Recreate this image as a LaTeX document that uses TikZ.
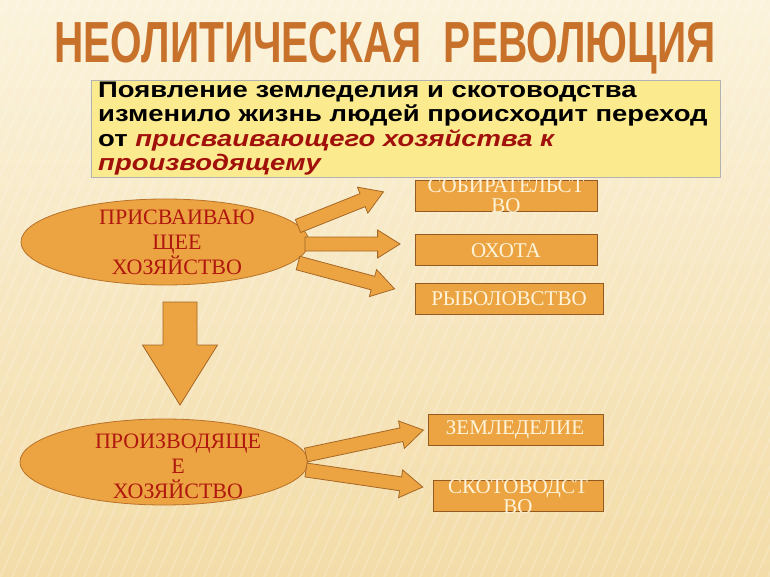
\documentclass[tikz,border=0pt]{standalone}
\usepackage{fontspec}
\setmainfont{Liberation Serif}
\newfontfamily\arialf{Liberation Sans}
\usetikzlibrary{shapes.geometric}
\definecolor{bgtop}{HTML}{FBF3DC}
\definecolor{bgbot}{HTML}{F3DCA8}
\definecolor{orfill}{HTML}{EBA441}
\definecolor{orline}{HTML}{B8722A}
\definecolor{titlec}{HTML}{C7712B}
\definecolor{redt}{HTML}{B0170E}
\definecolor{darkred}{HTML}{A1100B}
\definecolor{boxy}{HTML}{FBEA8E}
\definecolor{creamt}{HTML}{FFF4DA}
\tikzset{
  oval/.style={ellipse,fill=orfill,draw=orline,line width=0.8pt,minimum width=288pt,minimum height=86pt,inner sep=0pt},
  ovaltext/.style={text=redt,font=\fontsize{22}{25}\selectfont,align=center},
  obox/.style={fill=orfill,draw=orline!80!black,line width=1pt,inner sep=0pt,anchor=north west},
  boxtext/.style={text=creamt,font=\fontsize{21}{20}\selectfont,align=center},
  barrow/.style={fill=orfill,draw=orline!90!black,line width=0.8pt,line join=miter}
}
\newcommand\blockarr[6]{% x y angle length shaft head
  \begin{scope}[shift={(#1,#2)},rotate=#3]
  \path[barrow] (0,-#5/2)--(#4-#6*0.8,-#5/2)--(#4-#6*0.8,-#6/2)--(#4,0)--(#4-#6*0.8,#6/2)--(#4-#6*0.8,#5/2)--(0,#5/2)--cycle;
  \end{scope}}
\begin{document}
\begin{tikzpicture}[x=1pt,y=-1pt]
\shade[top color=bgtop,bottom color=bgbot] (0,0) rectangle (770,577);
\useasboundingbox (0,0) rectangle (770,577);
\foreach \i in {-40,...,80}{\draw[white,opacity=0.18,line width=2pt] (\i*12,577)--(\i*12+260,0);}
% title
\node[text=titlec,font=\arialf\bfseries\fontsize{58}{58}\selectfont,xscale=0.70] (title) at (385,48) {НЕОЛИТИЧЕСКАЯ\ \ РЕВОЛЮЦИЯ};
% yellow box
\node[fill=boxy,draw=gray!60,anchor=north west,minimum width=629pt,minimum height=97pt,inner sep=0pt] (info) at (91,80) {};
\node[anchor=north west,align=left,font=\arialf\bfseries\fontsize{22.5}{24.3}\selectfont,inner sep=0pt,xscale=1.22] (infot) at (98,82)
{Появление земледелия и скотоводства\\изменило жизнь людей происходит переход\\от \textcolor{darkred}{\itshape присваивающего хозяйства к}\\\textcolor{darkred}{\itshape производящему}};
% ovals
\node[oval] (e1) at (165,242) {};
\node[ovaltext] (e1t) at (177,242) {ПРИСВАИВАЮ\\ЩЕЕ\\ХОЗЯЙСТВО};
\node[oval] (e2) at (164,462) {};
\node[ovaltext] (e2t) at (178,466) {ПРОИЗВОДЯЩЕ\\Е\\ХОЗЯЙСТВО};
% boxes
\node[obox,minimum width=182pt,minimum height=31pt] (b1) at (415,180) {};
\node[boxtext] (b1t) at (506,196) {СОБИРАТЕЛЬСТ\\ВО};
\node[obox,minimum width=182pt,minimum height=31pt] (b2) at (415,234) {};
\node[boxtext] (b2t) at (506,251) {ОХОТА};
\node[obox,minimum width=188pt,minimum height=31pt] (b3) at (415,283) {};
\node[boxtext] (b3t) at (509,299) {РЫБОЛОВСТВО};
\node[obox,minimum width=175pt,minimum height=31pt] (b4) at (428,414) {};
\node[boxtext] (b4t) at (515,430) {ЗЕМЛЕДЕЛИЕ};
\node[obox,minimum width=170pt,minimum height=31pt] (b5) at (433,480) {};
\node[boxtext] (b5t) at (518,497) {СКОТОВОДСТ\\ВО};
% arrows
\blockarr{298}{226}{21.8}{92}{14}{28}
\blockarr{305}{244}{0}{95}{14}{28}
\blockarr{298}{263}{-15}{100}{14}{28}
\blockarr{306}{455}{12}{120}{14}{28}
\blockarr{306}{470}{-8.3}{118}{14}{28}
\blockarr{180}{302}{-90}{103}{34}{75}
\end{tikzpicture}
\end{document}
